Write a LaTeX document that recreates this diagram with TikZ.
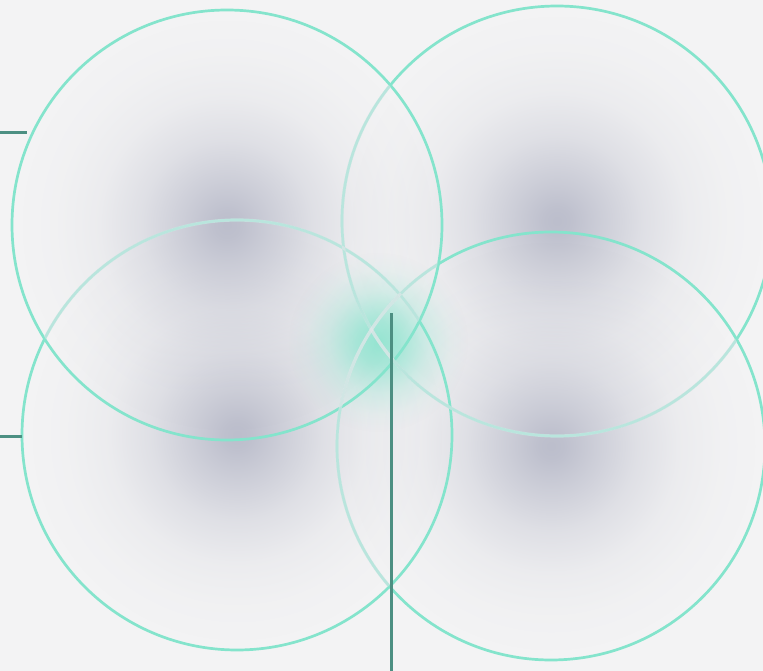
\documentclass[tikz,border=0pt]{standalone}
\usetikzlibrary{fadings}
\definecolor{bgc}{RGB}{243,243,244}
\definecolor{ringc}{RGB}{132,228,204}
\definecolor{fadec}{RGB}{230,231,235}
\definecolor{linec}{RGB}{76,143,130}
\definecolor{blobc}{RGB}{188,190,204}
\definecolor{glowc}{RGB}{110,224,196}
\pgfdeclareradialshading{blobfs}{\pgfpointorigin}{color(0bp)=(white); color(1.5bp)=(white!95!black); color(5bp)=(white!70!black); color(10bp)=(white!36!black); color(15bp)=(white!13!black); color(20bp)=(white!3!black); color(24bp)=(black); color(50bp)=(black)}
\pgfdeclarefading{blobfade}{\pgfuseshading{blobfs}}
\pgfdeclareradialshading{glowfs}{\pgfpointorigin}{color(0bp)=(white!70!black); color(6bp)=(white!55!black); color(14bp)=(white!22!black); color(20bp)=(white!6!black); color(25bp)=(black); color(50bp)=(black)}
\pgfdeclarefading{glowfade}{\pgfuseshading{glowfs}}
\tikzset{
  ring/.style={draw=ringc, line width=2.7pt},
  ringfade/.style={draw=fadec, line width=3.2pt, draw opacity=0.55},
  blobfill/.style={fill=blobc, path fading=blobfade},
  leader/.style={draw=linec, line width=3pt},
}
\begin{document}
\begin{tikzpicture}[x=1pt,y=-1pt]
\fill[bgc] (0,0) rectangle (763,671);
\useasboundingbox (0,0) rectangle (763,671);
\begin{scope}
\clip (0,0) rectangle (763,671);
\coordinate (tr) at (557,221);
\coordinate (br) at (551,446);
\coordinate (bl) at (237,435);
\coordinate (tl) at (227,225);
% blobs
\fill[blobfill] (tr) circle (215pt);
\fill[blobfill] (br) circle (214pt);
\fill[blobfill] (bl) circle (215pt);
\fill[blobfill] (tl) circle (215pt);
% glow
\coordinate (glow) at (378,342);
\fill[glowc, path fading=glowfade] (glow) circle (90pt);
% rings
\draw[ring] (tr) circle (215pt);
\draw[ring] (br) circle (214pt);
\draw[ring] (bl) circle (215pt);
\draw[ring] (tl) circle (215pt);
% faded arcs
\begin{scope}
  \clip (tl) circle (214pt);
  \draw[ringfade] (tr) circle (215pt);
  \draw[ringfade] (br) circle (214pt);
  \draw[ringfade] (bl) circle (215pt);
\end{scope}
\begin{scope}
  \clip (br) circle (213pt);
  \draw[ringfade] (tr) circle (215pt);
\end{scope}
\begin{scope}
  \clip (bl) circle (214pt);
  \draw[ringfade] (br) circle (214pt);
\end{scope}
% leaders
\coordinate (a1) at (0,133);
\coordinate (a2) at (27,133);
\coordinate (b1) at (0,436);
\coordinate (b2) at (22,436);
\coordinate (c1) at (391,313);
\coordinate (c2) at (391,671);
\draw[leader] (a1) -- (a2);
\draw[leader] (b1) -- (b2);
\draw[leader] (c1) -- (c2);
\end{scope}
\end{tikzpicture}
\end{document}
